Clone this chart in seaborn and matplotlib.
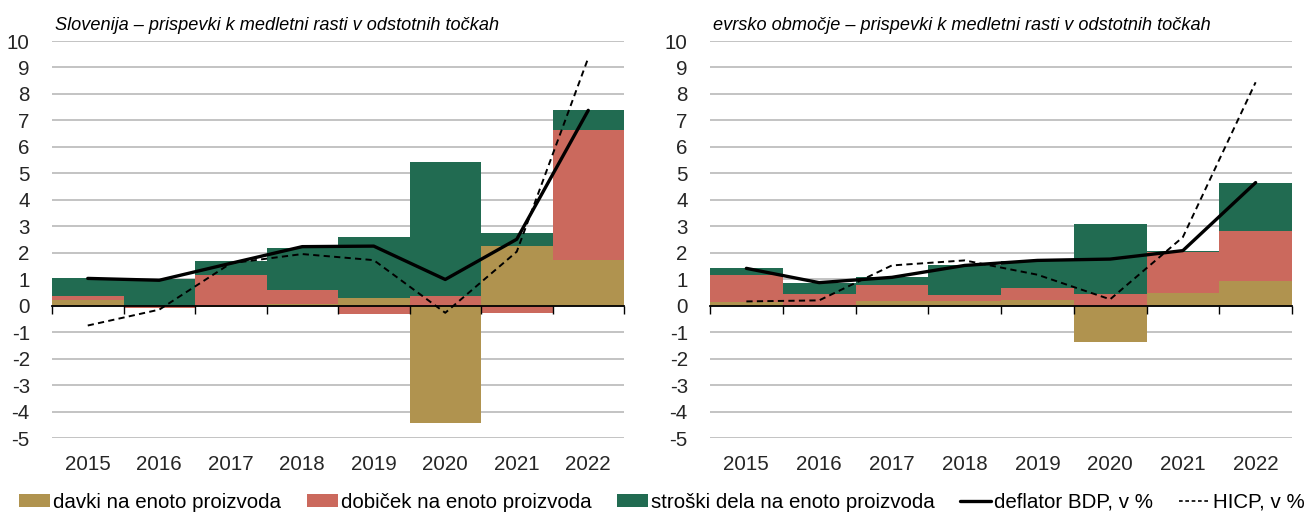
import numpy as np
import pandas as pd
import matplotlib
matplotlib.use("Agg")
import matplotlib.pyplot as plt
from matplotlib import font_manager
from matplotlib.patches import Patch
from matplotlib.lines import Line2D
import seaborn as sns

# ---- data -------------------------------------------------------------
years = ["2015", "2016", "2017", "2018", "2019", "2020", "2021", "2022"]

# Slovenia
si_davki = [0.23, 0.00, -0.05, 0.05, 0.30, -4.42, 2.25, 1.72]
si_dobicek = [0.14, -0.10, 1.15, 0.53, -0.33, 0.37, -0.27, 4.92]
si_stroski = [0.66, 1.00, 0.55, 1.59, 2.31, 5.07, 0.49, 0.74]
si_deflator = [1.03, 0.96, 1.60, 2.23, 2.25, 0.99, 2.51, 7.38]
si_hicp = [-0.75, -0.15, 1.60, 1.95, 1.72, -0.27, 2.04, 9.36]

# euro area
ea_davki = [0.13, 0.03, 0.16, 0.16, 0.20, -1.37, 0.49, 0.95]
ea_dobicek = [1.01, 0.40, 0.62, 0.23, 0.45, 0.43, 1.55, 1.88]
ea_stroski = [0.27, 0.44, 0.32, 1.13, 1.02, 2.67, 0.04, 1.80]
ea_deflator = [1.41, 0.87, 1.07, 1.52, 1.71, 1.76, 2.08, 4.65]
ea_hicp = [0.16, 0.20, 1.52, 1.71, 1.17, 0.24, 2.59, 8.44]

titles = [
    "Slovenija \u2013 prispevki k medletni rasti v odstotnih točkah",
    "evrsko območje \u2013 prispevki k medletni rasti v odstotnih točkah",
]
series_labels = [
    "davki na enoto proizvoda",
    "dobiček na enoto proizvoda",
    "stroški dela na enoto proizvoda",
    "deflator BDP, v %",
    "HICP, v %",
]
yticks = list(range(-5, 11))

# ---- style ------------------------------------------------------------
C_DAVKI = "#B0934F"
C_DOBICEK = "#CB695D"
C_STROSKI = "#216B51"
GRID = "#BEBEBE"

sns.set_theme(style="white")
names = {f.name for f in font_manager.fontManager.ttflist}
if "Liberation Sans Narrow" in names:
    FONT, K = "Liberation Sans Narrow", 1.0
else:
    FONT, K = "Liberation Sans", 0.87
plt.rcParams["font.family"] = [FONT, "DejaVu Sans"]
plt.rcParams["text.color"] = "black"

W, H = 1311, 517
fig = plt.figure(figsize=(W / 100, H / 100), dpi=100)
ax_l = fig.add_axes([52 / W, 1 - 438 / H, (624 - 52) / W, (438 - 41) / H])
ax_r = fig.add_axes([710 / W, 1 - 438 / H, (1292 - 710) / W, (438 - 41) / H])


def stacked_bottoms(*series):
    """Excel-style stacking: positives build upward, negatives downward."""
    pos = np.zeros(len(series[0]))
    neg = np.zeros(len(series[0]))
    out = []
    for s in series:
        s = np.asarray(s, dtype=float)
        b = np.where(s >= 0, pos, neg)
        out.append(b)
        pos = pos + np.where(s >= 0, s, 0)
        neg = neg + np.where(s < 0, s, 0)
    return out


def draw_panel(ax, davki, dobicek, stroski, deflator, hicp, title):
    comps = [davki, dobicek, stroski]
    colors = [C_DAVKI, C_DOBICEK, C_STROSKI]
    bottoms = stacked_bottoms(*comps)
    for vals, b, c in zip(comps, bottoms, colors):
        df = pd.DataFrame({"year": years, "val": vals})
        sns.barplot(data=df, x="year", y="val", bottom=b, color=c,
                    saturation=1, width=1.0, linewidth=0, errorbar=None,
                    ax=ax, zorder=2)
    pos = np.arange(len(years))
    sns.lineplot(x=pos, y=deflator, color="black", linewidth=2.4, ax=ax,
                 zorder=4, legend=False)
    sns.lineplot(x=pos, y=hicp, color="black", linewidth=1.4, ax=ax,
                 dashes=False, linestyle=(0, (3.2, 2.2)), zorder=4, legend=False)

    ax.set_xlim(-0.5, len(years) - 0.5)
    ax.set_ylim(-5, 10)
    ax.set_yticks(yticks)
    ax.set_yticklabels([str(t) for t in yticks])
    ax.set_xticks(pos)
    ax.set_xticklabels(years)
    ax.tick_params(axis="y", length=0, pad=16, labelsize=17 * K)
    ax.tick_params(axis="x", length=0, pad=12, labelsize=17 * K)
    ax.set_xlabel("")
    ax.set_ylabel("")
    for sp in ax.spines.values():
        sp.set_visible(False)
    ax.yaxis.grid(True, color=GRID, linewidth=1.3)
    ax.xaxis.grid(False)
    ax.set_axisbelow(True)

    # zero line with category-boundary ticks
    zero = ax.secondary_xaxis(0, transform=ax.transData)
    zero.set_xticks(np.arange(len(years) + 1) - 0.5)
    zero.set_xticklabels([])
    zero.tick_params(axis="x", direction="out", length=6, width=1.0,
                     color="black")
    zero.spines["bottom"].set_color("black")
    zero.spines["bottom"].set_linewidth(1.3)
    zero.set_zorder(5)

    ax.text(0.006, 1.028, title, transform=ax.transAxes, ha="left",
            va="baseline", fontsize=15 * K, fontstyle="italic")


draw_panel(ax_l, si_davki, si_dobicek, si_stroski, si_deflator, si_hicp,
           titles[0])
draw_panel(ax_r, ea_davki, ea_dobicek, ea_stroski, ea_deflator, ea_hicp,
           titles[1])

handles = [
    Patch(facecolor=C_DAVKI, edgecolor="none"),
    Patch(facecolor=C_DOBICEK, edgecolor="none"),
    Patch(facecolor=C_STROSKI, edgecolor="none"),
    Line2D([], [], color="black", linewidth=2.4),
    Line2D([], [], color="black", linewidth=1.2, linestyle=(0, (2.2, 1.6))),
]
fig.legend(handles, series_labels, loc="lower center", ncol=5,
           frameon=False, bbox_to_anchor=(0.505, -0.014),
           fontsize=17 * K, handlelength=1.5, handleheight=0.6,
           handletextpad=0.15, columnspacing=1.25, borderaxespad=0.2)

fig.savefig("out.png", dpi=100)
